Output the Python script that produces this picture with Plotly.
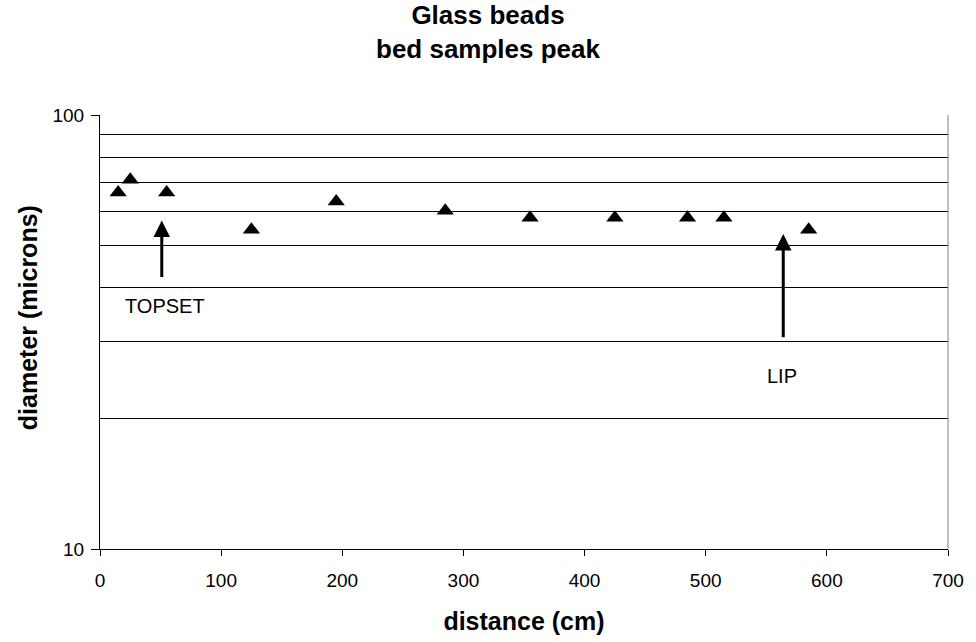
import numpy as np
import plotly.graph_objects as go

# data
distance_cm = [15, 25, 55, 125, 195, 285, 355, 425, 485, 515, 585]
diameter_um = [66.3, 70.9, 66.3, 54.4, 63.2, 60.2, 58.0, 58.0, 58.0, 58.0, 54.4]

x_ticks = [0, 100, 200, 300, 400, 500, 600, 700]
y_ticks = [10, 100]
y_minor = [20, 30, 40, 50, 60, 70, 80, 90]

# labelled arrows: (label, arrow x, tip value, tail value, label x, label value)
arrows = [
    ("TOPSET", 51, 57.1, 42.0, 53.6, 36.3),
    ("LIP", 564, 53.2, 30.5, 563.0, 25.1),
]

FONT = "Arial, Liberation Sans, sans-serif"

fig = go.Figure()
fig.add_trace(go.Scatter(
    x=distance_cm, y=diameter_um, mode="markers",
    marker=dict(symbol="triangle-up", size=15, color="black"),
    showlegend=False, hoverinfo="x+y",
))

annotations = []
for label, ax_x, tip, tail, lx, ly in arrows:
    annotations.append(dict(
        x=ax_x, y=np.log10(tip), ax=ax_x, ay=np.log10(tail),
        xref="x", yref="y", axref="x", ayref="y",
        text="", showarrow=True, arrowhead=2, arrowsize=1.1,
        arrowwidth=3, arrowcolor="black",
    ))
    annotations.append(dict(
        x=lx, y=np.log10(ly), xref="x", yref="y", text=label,
        showarrow=False, font=dict(family=FONT, size=20, color="black"),
    ))

annotations.append(dict(
    x=-0.0855, y=0.533, xref="paper", yref="paper",
    xanchor="center", yanchor="middle",
    text="<b>diameter (microns)</b>", textangle=-90, showarrow=False,
    font=dict(family=FONT, size=25, color="black"),
))

fig.update_layout(
    width=976, height=642,
    margin=dict(l=100, r=23, t=115, b=89),
    paper_bgcolor="white", plot_bgcolor="white",
    font=dict(family=FONT, color="black"),
    title=dict(
        text="<b>Glass beads<br>bed samples peak</b>",
        x=0.5, xref="container", xanchor="center",
        y=0.962, yref="container", yanchor="top",
        font=dict(family=FONT, size=26, color="black"),
    ),
    annotations=annotations,
    shapes=[dict(type="line", xref="paper", yref="paper", x0=1, x1=1, y0=0, y1=1,
                 line=dict(color="#808080", width=1))],
    xaxis=dict(
        range=[0, 700], tickvals=x_ticks, showgrid=False, zeroline=False,
        showline=True, linecolor="black", linewidth=1,
        ticks="outside", ticklen=6, tickcolor="black", ticklabelstandoff=8,
        tickfont=dict(family=FONT, size=19, color="black"),
        title=dict(text="<b>distance (cm)</b>", standoff=22,
                   font=dict(family=FONT, size=25, color="black")),
    ),
    yaxis=dict(
        type="log", range=[1, 2], tickvals=y_ticks, ticktext=["10", "100"],
        showgrid=True, gridcolor="black", gridwidth=1, zeroline=False,
        showline=True, linecolor="black", linewidth=1,
        ticks="outside", ticklen=8, tickcolor="black", ticklabelstandoff=3,
        tickfont=dict(family=FONT, size=19, color="black"),
        minor=dict(tickvals=y_minor, showgrid=True, gridcolor="black",
                   gridwidth=1, ticks=""),
    ),
)

fig.write_html("out.html", config={"displayModeBar": False},
               post_script="document.body.style.margin='0';")
